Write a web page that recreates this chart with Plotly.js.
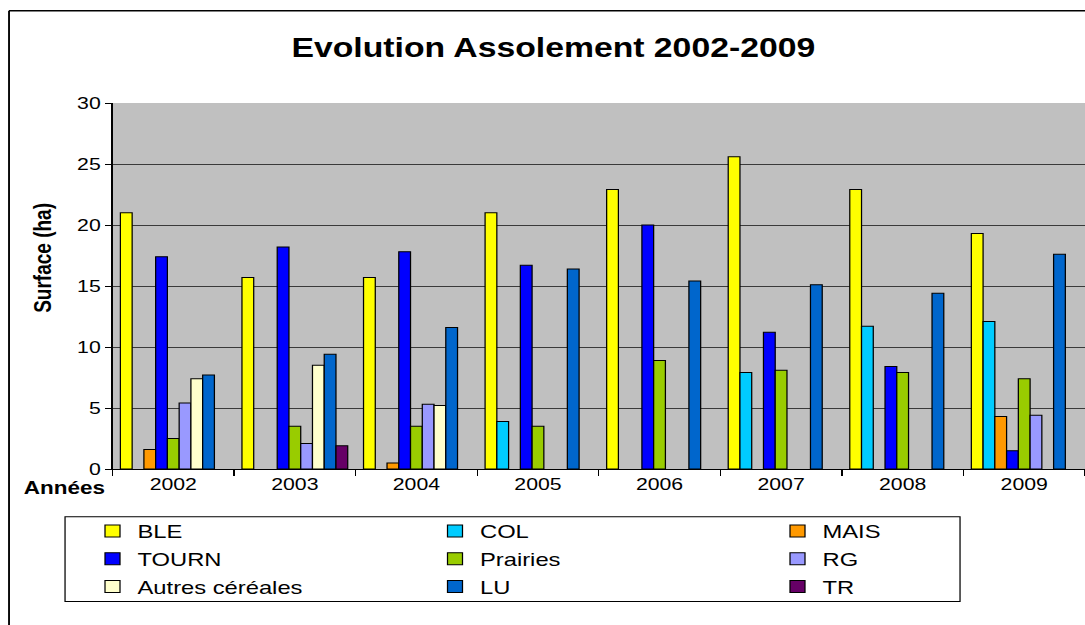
<!DOCTYPE html>
<html>
<head>
<meta charset="utf-8">
<script src="https://cdn.plot.ly/plotly-3.0.1.min.js"></script>
<style>
  html, body { margin: 0; padding: 0; background: #ffffff; overflow: hidden; }
  #chart { width: 868px; height: 625px; transform: scaleX(1.25); transform-origin: 0 0; }
</style>
</head>
<body>
<div id="chart"></div>
<script>
// ---- Data ----
const years = ['2002', '2003', '2004', '2005', '2006', '2007', '2008', '2009'];
const seriesNames = ['BLE', 'COL', 'MAIS', 'TOURN', 'Prairies', 'RG', 'Autres céréales', 'LU', 'TR'];
const BLE      = [21.0, 15.7, 15.7, 21.0, 22.9, 25.6, 22.9, 19.3];
const COL      = [null, null, null, 3.9, null, 7.9, 11.7, 12.1];
const MAIS     = [1.6, null, 0.5, null, null, null, null, 4.3];
const TOURN    = [17.4, 18.2, 17.8, 16.7, 20.0, 11.2, 8.4, 1.5];
const Prairies = [2.5, 3.5, 3.5, 3.5, 8.9, 8.1, 7.9, 7.4];
const RG       = [5.4, 2.1, 5.3, null, null, null, null, 4.4];
const Autres   = [7.4, 8.5, 5.2, null, null, null, null, null];
const LU       = [7.7, 9.4, 11.6, 16.4, 15.4, 15.1, 14.4, 17.6];
const TR       = [null, 1.9, null, null, null, null, null, null];
const yTicks   = [0, 5, 10, 15, 20, 25, 30];

const seriesValues = [BLE, COL, MAIS, TOURN, Prairies, RG, Autres, LU, TR];
const colors = ['#FFFF00', '#00CCFF', '#FF9900', '#0000FF', '#99CC00', '#9999FF', '#FFFFCC', '#0066CC', '#660066'];

const FONT = 'Liberation Sans, Arial, sans-serif';

const traces = seriesNames.map((name, i) => ({
  type: 'bar',
  name: name,
  x: years,
  y: seriesValues[i],
  marker: { color: colors[i], line: { color: '#000000', width: 1 } },
  hoverinfo: 'skip'
}));

const layout = {
  width: 868,
  height: 625,
  paper_bgcolor: '#ffffff',
  plot_bgcolor: '#c0c0c0',
  margin: { l: 90, r: 0, t: 103, b: 156 },
  barmode: 'group',
  bargap: 0.13,
  bargroupgap: 0,
  font: { family: FONT, color: '#000000', size: 17 },
  title: {
    text: '<b>Evolution Assolement 2002-2009</b>',
    font: { family: FONT, size: 27, color: '#000000' },
    xref: 'container', x: 0.51, xanchor: 'center',
    yref: 'container', y: 0.924, yanchor: 'middle'
  },
  xaxis: {
    type: 'category',
    tickson: 'boundaries',
    ticks: 'outside',
    ticklen: 6,
    tickcolor: '#000000',
    showline: true,
    linecolor: '#000000',
    linewidth: 1,
    showgrid: false,
    tickfont: { family: FONT, size: 17, color: '#000000' },
    automargin: false
  },
  yaxis: {
    range: [0, 30],
    tickvals: yTicks,
    ticktext: yTicks.map(String),
    ticks: 'outside',
    ticklen: 5,
    tickcolor: '#000000',
    showline: true,
    linecolor: '#000000',
    linewidth: 1,
    showgrid: true,
    gridcolor: '#3a3a3a',
    gridwidth: 1,
    zeroline: false,
    tickfont: { family: FONT, size: 17, color: '#000000' },
    automargin: false
  },
  showlegend: true,
  legend: {
    orientation: 'h',
    xref: 'paper', x: -0.0406, xanchor: 'left',
    yref: 'paper', y: -0.118, yanchor: 'top',
    entrywidth: 205,
    entrywidthmode: 'pixels',
    indentation: 24,
    bgcolor: 'rgba(0,0,0,0)',
    borderwidth: 0,
    font: { family: FONT, size: 19, color: '#000000' },
    traceorder: 'normal',
    itemclick: false,
    itemdoubleclick: false
  },
  annotations: [
    {
      text: '<b>Années</b>',
      xref: 'paper', yref: 'paper',
      x: -0.05, y: -0.051,
      xanchor: 'center', yanchor: 'middle',
      showarrow: false,
      font: { family: FONT, size: 18, color: '#000000' }
    },
    {
      text: '<b>Surface (ha)</b>',
      xref: 'paper', yref: 'paper',
      x: -0.0707, y: 0.577,
      xanchor: 'center', yanchor: 'middle',
      textangle: -90,
      showarrow: false,
      font: { family: FONT, size: 19, color: '#000000' }
    }
  ],
  shapes: [
    // outer chart frame (left and top edges)
    { type: 'line', xref: 'paper', yref: 'paper', x0: -0.1064, x1: -0.1064, y0: -0.5, y1: 1.252, line: { color: '#000000', width: 1.5 } },
    { type: 'line', xref: 'paper', yref: 'paper', x0: -0.1064, x1: 1.05, y0: 1.252, y1: 1.252, line: { color: '#000000', width: 1.5 } },
    // legend frame
    { type: 'rect', xref: 'paper', yref: 'paper', x0: -0.0488, x1: 0.8715, y0: -0.362, y1: -0.1303,
      fillcolor: '#ffffff', line: { color: '#000000', width: 1 }, layer: 'above' }
  ]
};

Plotly.newPlot('chart', traces, layout, { displayModeBar: false, staticPlot: true });
</script>
</body>
</html>
